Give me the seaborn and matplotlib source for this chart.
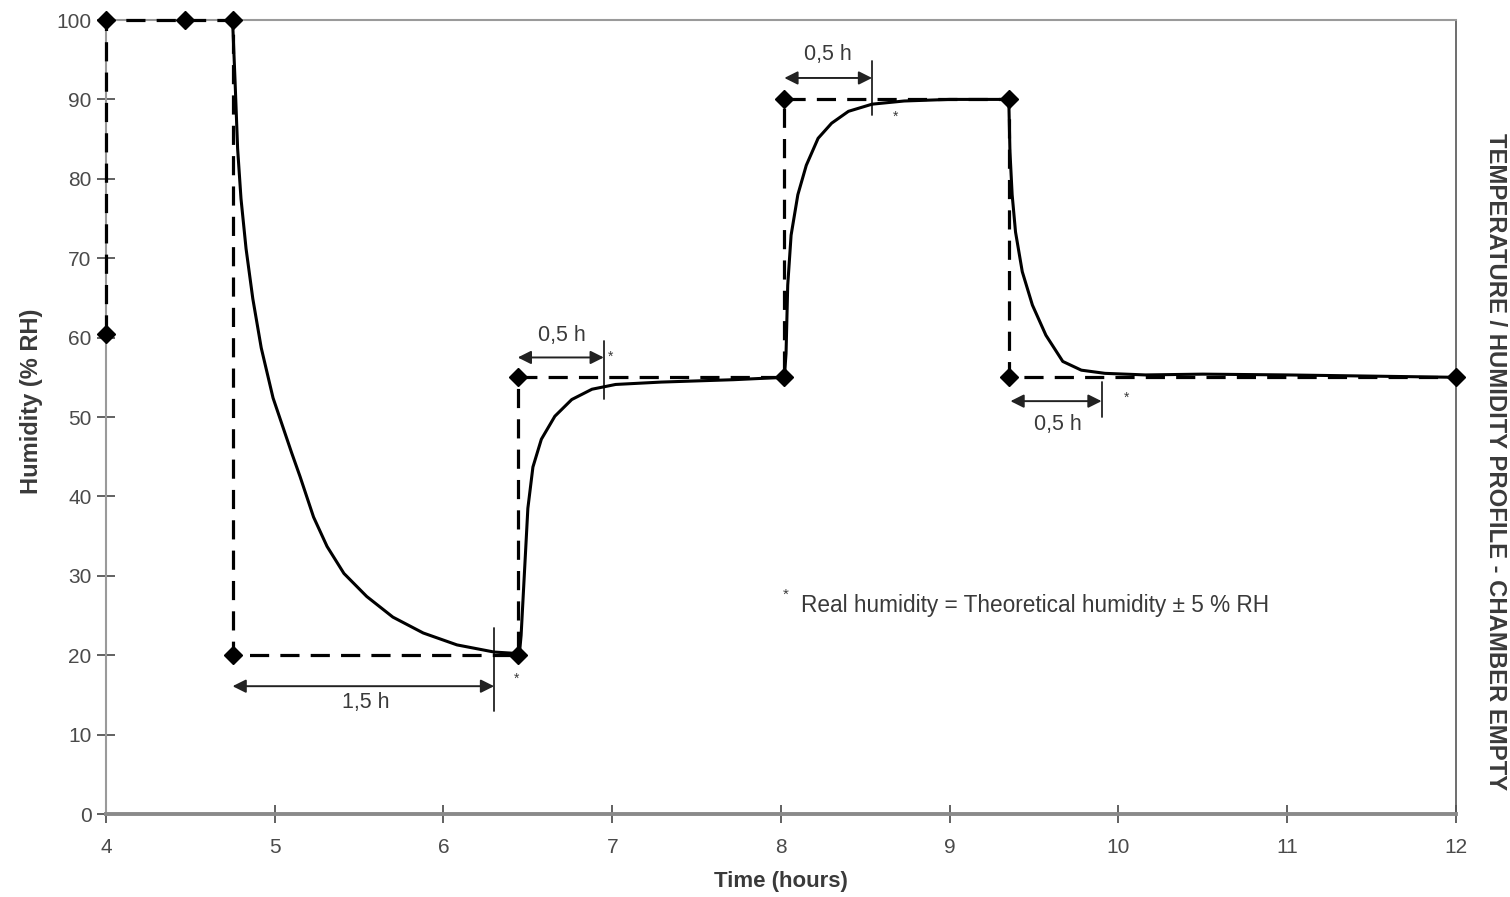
import matplotlib
matplotlib.use("Agg")
import matplotlib.pyplot as plt
import seaborn as sns
import pandas as pd

# ---------------- data ----------------
# theoretical profile (dashed with diamonds)
theo_time = [4.0, 4.0, 4.47, 4.75, 4.75, 6.44, 6.44, 8.02, 8.02, 9.35, 9.35, 12.0]
theo_hum = [60.5, 100, 100, 100, 20, 20, 55, 55, 90, 90, 55, 55]

# real humidity (solid curve)
real_time = [4.75, 4.765, 4.78, 4.80, 4.83, 4.87, 4.92, 4.99, 5.10, 5.15, 5.23, 5.31, 5.41,
             5.545, 5.70, 5.88, 6.08, 6.30, 6.45,
             6.46, 6.47, 6.48, 6.50, 6.53, 6.58, 6.66, 6.76, 6.88, 7.02, 7.29, 7.72, 8.02,
             8.03, 8.04, 8.06, 8.10, 8.15, 8.22, 8.30, 8.40, 8.54, 8.73, 9.0, 9.35,
             9.357, 9.37, 9.39, 9.43, 9.49, 9.57, 9.67, 9.78, 9.92, 10.16, 10.5, 11.0, 11.5, 12.0]
real_hum = [100, 92.2, 83.8, 77.5, 71.2, 64.9, 58.7, 52.4, 45.5, 42.5, 37.4, 33.7, 30.3,
            27.4, 24.8, 22.8, 21.3, 20.4, 20.2,
            22.5, 26.5, 30.5, 38.5, 43.7, 47.2, 50.1, 52.2, 53.5, 54.1, 54.4, 54.7, 55.0,
            58.0, 66.6, 72.9, 78.0, 81.7, 85.1, 87.0, 88.5, 89.4, 89.8, 90.0, 90.0,
            83.4, 78.0, 73.3, 68.3, 64.1, 60.3, 57.0, 55.9, 55.5, 55.3, 55.4, 55.3, 55.15, 55.0]

x_ticks = [4, 5, 6, 7, 8, 9, 10, 11, 12]
y_ticks = [0, 10, 20, 30, 40, 50, 60, 70, 80, 90, 100]

# dimension annotations
ann_labels = ["1,5 h", "0,5 h", "0,5 h", "0,5 h"]
arrow_start = [4.75, 6.44, 8.02, 9.36]
arrow_end = [6.30, 6.95, 8.54, 9.90]
arrow_y = [16.1, 57.5, 92.7, 52.0]
label_x = [5.54, 6.70, 8.28, 9.64]
label_y = [14.0, 60.3, 95.6, 49.0]
mark_y0 = [13.0, 52.3, 88.0, 50.0]
mark_y1 = [23.4, 59.6, 94.8, 54.4]
star_x = [6.43, 6.99, 8.68, 10.05]
star_y = [17.0, 57.6, 87.8, 52.4]

note_text = "Real humidity = Theoretical humidity \u00b1 5 % RH"
side_title = "TEMPERATURE / HUMIDITY PROFILE - CHAMBER EMPTY"

# ---------------- style ----------------
sns.set_theme(style="white")
plt.rcParams["font.family"] = ["Liberation Sans", "DejaVu Sans"]
TXT = "#3a3a3a"

fig = plt.figure(figsize=(15.1, 8.97), dpi=100)
ax = fig.add_axes([0.0702, 0.0925, 0.894, 0.8852])

real_df = pd.DataFrame({"time": real_time, "hum": real_hum})
theo_df = pd.DataFrame({"time": theo_time, "hum": theo_hum})

sns.lineplot(data=real_df, x="time", y="hum", sort=False, estimator=None, ax=ax,
             color="black", linewidth=2.2, zorder=3, clip_on=False,
             solid_joinstyle="round", solid_capstyle="round")
sns.lineplot(data=theo_df, x="time", y="hum", sort=False, estimator=None, ax=ax,
             color="black", linewidth=2.3, linestyle=(0, (6, 3.5)), marker="D",
             markersize=9, markerfacecolor="black", markeredgecolor="black",
             markeredgewidth=1, zorder=4, clip_on=False)

ax.set_xlim(4, 12)
ax.set_ylim(0, 100)
ax.set_xticks(x_ticks)
ax.set_yticks(y_ticks)
ax.set_xticklabels([str(v) for v in x_ticks])
ax.set_yticklabels([str(v) for v in y_ticks])
ax.tick_params(axis="both", which="major", direction="inout", length=13, width=1.3,
               colors="#555555", labelsize=15, labelcolor="#4a4a4a",
               bottom=True, left=True, top=False, right=False)
ax.tick_params(axis="x", pad=11)
ax.tick_params(axis="y", pad=4)
ax.grid(False)
for name, sp in ax.spines.items():
    sp.set_color("#9a9a9a")
    sp.set_linewidth(1.5)
ax.spines["bottom"].set_linewidth(2.8)
ax.spines["bottom"].set_color("#8a8a8a")
ax.spines["right"].set_color("#555555")
ax.spines["right"].set_linewidth(1.2)

ax.set_xlabel("Time (hours)", fontsize=16, fontweight="bold", color=TXT, labelpad=10)
ax.set_ylabel("Humidity (% RH)", fontsize=17, fontweight="bold", color=TXT)
ax.yaxis.set_label_coords(-0.047, 0.52)

# annotations
for lab, xs, xe, ya, lx, ly, m0, m1, sx, sy in zip(ann_labels, arrow_start, arrow_end, arrow_y,
                                                 label_x, label_y, mark_y0, mark_y1, star_x, star_y):
    ax.annotate("", xy=(xe, ya), xytext=(xs, ya),
                arrowprops=dict(arrowstyle="<|-|>", color="#222222", lw=1.4,
                                mutation_scale=20, shrinkA=0, shrinkB=0))
    ax.plot([xe, xe], [m0, m1], color="#222222", lw=1.3)
    ax.text(lx, ly, lab, ha="center", va="center", fontsize=15.5, color=TXT)
    ax.text(sx, sy, "*", ha="center", va="center", fontsize=10, color=TXT)

ax.text(8.03, 27.6, "*", ha="center", va="center", fontsize=11, color=TXT)
ax.text(8.12, 26.2, note_text, ha="left", va="center", fontsize=16.3, color=TXT)

fig.text(0.9905, 0.485, side_title, rotation=-90, ha="center", va="center",
         fontsize=17.2, fontweight="bold", color=TXT)

fig.savefig("out.png", dpi=100)
